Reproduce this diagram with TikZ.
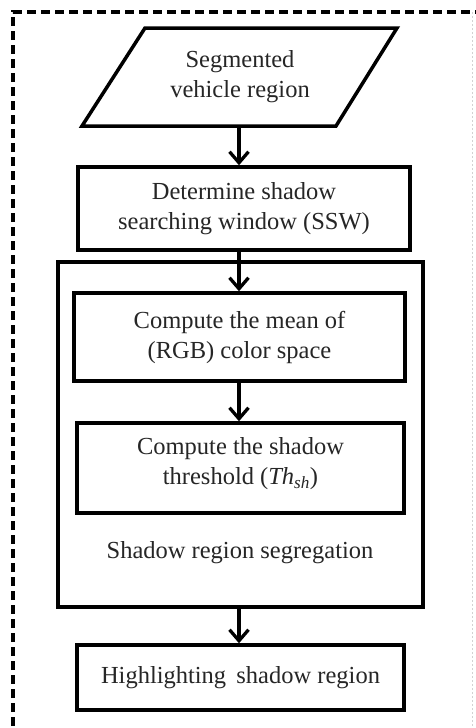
\documentclass[tikz,border=0pt]{standalone}
\usepackage{fontspec}
\setmainfont{Liberation Serif}
\usetikzlibrary{arrows.meta,calc}
\begin{document}
\begin{tikzpicture}[x=1pt,y=-1pt,
  box/.style={draw=black,line width=3.5pt,fill=white,align=center,inner sep=0pt},
  txt/.style={align=center,inner sep=0pt,font=\fontsize{24.5}{30}\selectfont,text=black!85},
  arr/.style={line width=3.3pt,-{Straight Barb[length=11pt,width=19pt,line width=3.3pt]}},
  frame/.style={line width=3.5pt,dash pattern=on 9pt off 5pt}]
\useasboundingbox (0,0) rectangle (476,728);
% dashed outer frame
\draw[frame] (13,740) -- (13,12) -- (480,12);
\draw[gray!35,line width=0.6pt,dash pattern=on 2pt off 2pt] (472,12) -- (472,728);
% parallelogram input
\coordinate (ptl) at (145,28);
\coordinate (ptr) at (397,28);
\coordinate (pbr) at (336,126);
\coordinate (pbl) at (82,126);
\draw[line width=3.5pt,line join=miter] (ptl) -- (ptr) -- (pbr) -- (pbl) -- cycle;
\node[txt] (p) at (240,77) {Segmented\\vehicle region};
\coordinate (pb) at (239,126);
% boxes
\node[box,minimum width=332pt,minimum height=83pt] (b2) at (244,208.5) {};
\node[txt] (t2) at (b2.center) {Determine shadow\\searching window (SSW)};
\node[box,minimum width=365pt,minimum height=345pt] (outer) at (240.5,434.5) {};
\node[box,minimum width=331pt,minimum height=88pt] (b3) at (239.5,337) {};
\node[txt] (t3) at (b3.center) {Compute the mean of\\(RGB) color space};
\node[box,minimum width=327pt,minimum height=90pt] (b4) at (240.5,468) {};
\node[txt] (t4) at ($(b4.center)+(0,-4)$) {Compute the shadow\\threshold (\textit{Th}\textsubscript{\textit{sh}})};
\node[txt] (lab) at (240,553) {Shadow region segregation};
\node[box,minimum width=327pt,minimum height=65pt] (b5) at (240.5,677.5) {};
\node[txt] (t5) at (b5.center) {Highlighting\, shadow region};
% arrows
\draw[arr] (pb) -- (pb |- b2.north);
\draw[arr] (pb |- b2.south) -- (pb |- b3.north);
\draw[arr] (pb |- b3.south) -- (pb |- b4.north);
\draw[arr] (pb |- outer.south) -- (pb |- b5.north);
\end{tikzpicture}
\end{document}
